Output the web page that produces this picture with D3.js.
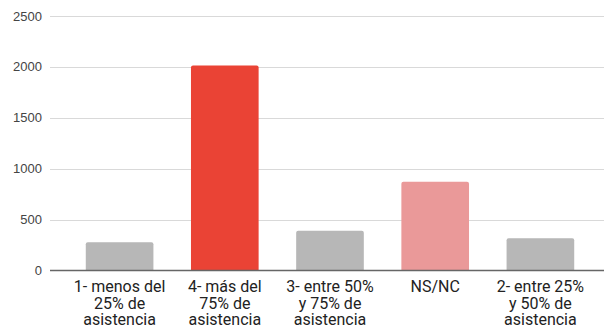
<!DOCTYPE html>
<html><head><meta charset="utf-8">
<script src="https://cdn.jsdelivr.net/npm/d3@7"></script>
<style>body{margin:0;background:#fff;}svg{display:block;}</style>
</head><body><svg id="c" width="604" height="328"></svg>
<script>
const categories = [
  ["1- menos del","25% de","asistencia"],
  ["4- más del","75% de","asistencia"],
  ["3- entre 50%","y 75% de","asistencia"],
  ["NS/NC"],
  ["2- entre 25%","y 50% de","asistencia"]
];
const values = [277, 2013, 391, 872, 316];
const barColors = ["#b7b7b7", "#ea4335", "#b7b7b7", "#ea9999", "#b7b7b7"];
const yTicks = [0, 500, 1000, 1500, 2000, 2500];

const svg = d3.select("#c");
const ids = d3.range(categories.length);
const x = d3.scaleBand().domain(ids).range([67, 593]).paddingInner(0.357).paddingOuter(0.1785);
const y = d3.scaleLinear().domain([0, 2500]).range([270.5, 16]);

// gridlines
svg.append("g").selectAll("line").data(yTicks.filter(d => d > 0)).join("line")
  .attr("x1", 50).attr("x2", 604)
  .attr("y1", d => Math.round(y(d)) + 0.5).attr("y2", d => Math.round(y(d)) + 0.5)
  .attr("stroke", "#d9d9d9").attr("stroke-width", 1);

// y labels
svg.append("g").selectAll("text").data(yTicks).join("text")
  .attr("x", 42).attr("y", d => y(d)).attr("dy", "0.35em")
  .attr("text-anchor", "end")
  .attr("font-family", "Liberation Sans, Arial, sans-serif").attr("font-size", 13)
  .attr("fill", "#444").text(d => d);

// bars
svg.append("g").selectAll("path").data(ids).join("path")
  .attr("d", i => {
    const x0 = x(i), w = x.bandwidth(), y0 = y(values[i]), y1 = y(0), r = 2;
    return `M${x0},${y1}V${y0 + r}Q${x0},${y0} ${x0 + r},${y0}H${x0 + w - r}Q${x0 + w},${y0} ${x0 + w},${y0 + r}V${y1}Z`;
  })
  .attr("fill", i => barColors[i]);

// baseline
svg.append("line").attr("x1", 50).attr("x2", 604)
  .attr("y1", y(0)).attr("y2", y(0))
  .attr("stroke", "#666").attr("stroke-width", 1.5);

// category labels
const lab = svg.append("g").selectAll("text").data(ids).join("text")
  .attr("text-anchor", "middle")
  .attr("font-family", "Roboto, sans-serif").attr("font-size", 16)
  .attr("fill", "#222");
lab.each(function(i) {
  const t = d3.select(this);
  categories[i].forEach((line, k) => {
    t.append("tspan").attr("x", x(i) + x.bandwidth() / 2).attr("y", 292 + k * 16.5).text(line);
  });
});
</script></body></html>
